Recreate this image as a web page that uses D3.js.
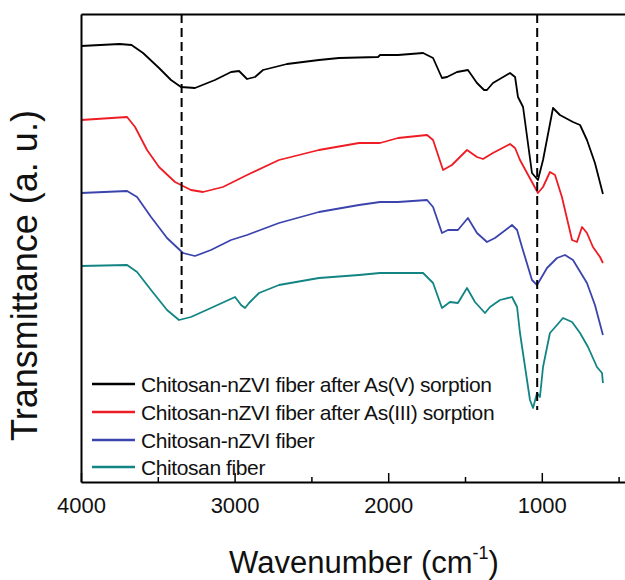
<!DOCTYPE html>
<html>
<head>
<meta charset="utf-8">
<script src="https://cdn.jsdelivr.net/npm/d3@7"></script>
<style>
  html, body { margin: 0; padding: 0; background: #fff; }
  svg { display: block; font-family: "Liberation Sans", Arial, sans-serif; }
</style>
</head>
<body>
<svg id="chart" width="625" height="580"></svg>
<script>
// ---- Data (wavenumber cm^-1, transmittance a.u., curves offset) ----
const seriesNames = [
  "Chitosan-nZVI fiber after As(V) sorption",
  "Chitosan-nZVI fiber after As(III) sorption",
  "Chitosan-nZVI fiber",
  "Chitosan fiber"
];
const seriesColors = ["#000000", "#ee1c24", "#3b44ad", "#128484"];

const asVWave = [4000,3749,3671,3596,3492,3414,3349,3258,3128,3023,2971,2919,2867,2815,2659,2451,2320,2066,2053,1936,1773,1708,1650,1617,1552,1481,1422,1376,1357,1318,1207,1174,1155,1122,1064,1025,992,927,882,797,751,706,654,602];
const asVTrans = [109,109.5,109.25,107.25,103.5,100.5,98.75,98.5,100.5,102.5,102.75,100.75,101.25,103,104.5,105.5,106,106.25,106.75,106.75,107.25,106,101,101.25,102.5,103,99.75,98,98,99.75,102.25,101.25,96.25,93.75,77.25,75.5,80.5,93.5,91.75,90,89.25,85.5,79.75,72];

const asIIIWave = [4000,3700,3648,3570,3492,3388,3284,3206,3076,2919,2711,2451,2190,2053,1936,1747,1708,1643,1585,1487,1422,1383,1318,1207,1174,1142,1096,1025,992,947,914,869,803,771,738,706,667,621,602];
const asIIITrans = [90.5,91.25,88.75,83,78.75,75,73,72.5,73.75,76.75,80.5,83,84.75,84.75,86,86.75,85.5,78,79.25,83,81.25,80.75,82.25,84.5,83.5,80.5,77.25,72.25,73.75,77.5,76.75,71.25,60.5,60,63.75,62.25,58.75,56.25,54.75];

const nzviWave = [4000,3700,3635,3544,3440,3336,3258,3154,3023,2919,2711,2451,2190,2053,1936,1747,1708,1650,1611,1546,1481,1422,1357,1305,1194,1161,1129,1064,1031,966,901,849,797,706,654,602];
const nzviTrans = [72.25,72.75,71.25,66.25,61,57.25,56.5,58,60.5,61.75,64.75,67.5,69.25,70,70,70.5,68.75,62.25,63,63,66,62.25,60,61,64.25,63,58.75,50.5,49.25,53.5,56,56.75,55.5,49.75,44.25,36.75];

const chitoWave = [4000,3700,3635,3544,3440,3362,3284,3154,2997,2958,2932,2906,2841,2711,2451,2190,2053,1936,1773,1708,1650,1598,1546,1487,1435,1370,1337,1272,1194,1161,1142,1109,1077,1057,1031,1012,992,947,901,862,803,751,699,641,608,602];
const chitoTrans = [54,54.25,52.5,48,43,40.5,41.25,43.5,46.25,44.25,43.5,44.75,47.25,49.25,51,51.75,52.25,52.25,52.25,49.75,43.5,45,44.75,48.5,45,42.25,43.75,45.5,46.25,43.75,37.25,28.75,20.5,18.5,22.25,21.25,28.75,37.25,39.25,41,40,37.25,33.75,28.75,27.25,24.75];

const dashedWave = [3345, 1030];       // marker lines
const dashedBottom = [42, 18];          // a.u. level where each marker stops
const majorTicks = [4000, 3000, 2000, 1000];
const minorTicks = [3500, 2500, 1500, 500];

// ---- Build ----
const seriesWave = [asVWave, asIIIWave, nzviWave, chitoWave];
const seriesTrans = [asVTrans, asIIITrans, nzviTrans, chitoTrans];
const series = seriesNames.map((name, i) => ({
  name, color: seriesColors[i],
  points: seriesWave[i].map((w, j) => ({ w, t: seriesTrans[i][j] }))
}));

const svg = d3.select("#chart");
const mLeft = 81, mTop = 14, mBottom = 482;
const x = d3.scaleLinear().domain([4000, 400]).range([mLeft, mLeft + 3600 * 0.1536]);
const y = d3.scaleLinear().domain([0, 117]).range([mBottom, mTop]);

// curves
const line = d3.line().x(d => x(d.w)).y(d => y(d.t)).curve(d3.curveLinear);
svg.append("g").selectAll("path").data(series).join("path")
  .attr("d", d => line(d.points))
  .attr("fill", "none")
  .attr("stroke", d => d.color)
  .attr("stroke-width", 1.8)
  .attr("stroke-linejoin", "round");

// dashed marker lines
svg.append("g").selectAll("line").data(dashedWave).join("line")
  .attr("x1", d => x(d)).attr("x2", d => x(d))
  .attr("y1", mTop).attr("y2", (d, i) => y(dashedBottom[i]))
  .attr("stroke", "#000").attr("stroke-width", 2)
  .attr("stroke-dasharray", "9,5");

// bottom axis (major)
const xAxis = svg.append("g").attr("transform", `translate(0,${mBottom})`)
  .call(d3.axisBottom(x).tickValues(majorTicks).tickSizeInner(-9).tickSizeOuter(0).tickPadding(15).tickFormat(d3.format("d")));
xAxis.select(".domain").attr("stroke-width", 2);
xAxis.selectAll(".tick line").attr("stroke-width", 1.5);
xAxis.selectAll(".tick text").attr("font-size", 22).attr("font-family", "'Liberation Sans', Arial, sans-serif").attr("fill", "#111");

// bottom axis (minor)
const xMinor = svg.append("g").attr("transform", `translate(0,${mBottom})`)
  .call(d3.axisBottom(x).tickValues(minorTicks).tickSizeInner(-5).tickSizeOuter(0).tickFormat(""));
xMinor.select(".domain").remove();
xMinor.selectAll(".tick line").attr("stroke-width", 1.5);

// top frame
const xTop = svg.append("g").attr("transform", `translate(0,${mTop})`)
  .call(d3.axisTop(x).tickValues([]).tickSizeOuter(0));
xTop.select(".domain").attr("stroke-width", 2);

// left axis (no ticks)
const yAxis = svg.append("g").attr("transform", `translate(${mLeft},0)`)
  .call(d3.axisLeft(y).tickValues([]).tickSizeOuter(0));
yAxis.select(".domain").attr("stroke-width", 2);

// legend
const legY = [384, 412, 440, 467];
const leg = svg.append("g").selectAll("g").data(series).join("g")
  .attr("transform", (d, i) => `translate(0,${legY[i]})`);
leg.append("line").attr("x1", 92).attr("x2", 135).attr("y1", 0).attr("y2", 0)
  .attr("stroke", d => d.color).attr("stroke-width", 2.5);
leg.append("text").attr("x", 141).attr("y", 7.5)
  .attr("font-size", 21).attr("letter-spacing", "-0.4px").attr("fill", "#111")
  .text(d => d.name);

// axis titles
const xt = svg.append("text").attr("x", 364).attr("y", 573)
  .attr("text-anchor", "middle").attr("font-size", 31).attr("fill", "#111");
xt.append("tspan").text("Wavenumber (cm");
xt.append("tspan").attr("font-size", 18).attr("dy", -14).text("-1");
xt.append("tspan").attr("dy", 14).text(")");

svg.append("text")
  .attr("transform", "translate(37,275.5) rotate(-90)")
  .attr("text-anchor", "middle").attr("font-size", 36).attr("fill", "#111")
  .text("Transmittance (a. u.)");
</script>
</body>
</html>
